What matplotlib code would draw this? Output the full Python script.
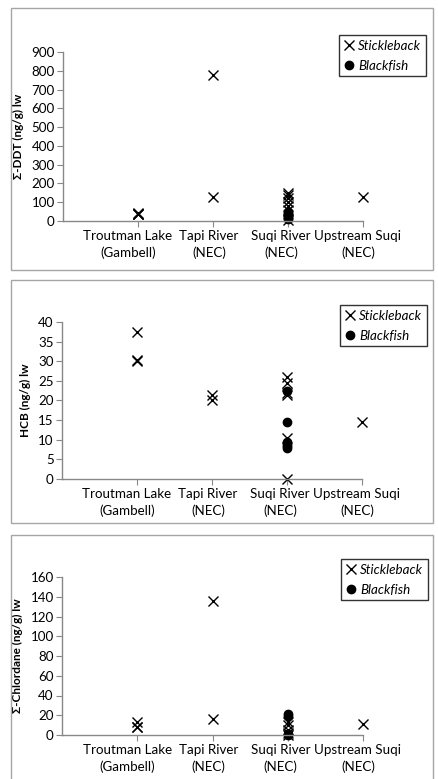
import matplotlib
matplotlib.use("Agg")
import matplotlib.pyplot as plt
from matplotlib.patches import Rectangle
from matplotlib.transforms import ScaledTranslation, blended_transform_factory

plt.rcParams['font.family'] = ['Lato', 'DejaVu Sans']

categories = ["Troutman Lake\n(Gambell)", "Tapi River\n(NEC)", "Suqi River\n(NEC)", "Upstream Suqi\n(NEC)"]
cat_pos = [1, 2, 3, 4]

# Panel 1: sum DDT
ddt_stickle = [[38, 35, 40, 36], [778, 130], [150, 140, 125, 100, 80, 60, 5], [128]]
ddt_black = [[], [], [50, 40, 30, 20, 15, 10], []]
# Panel 2: HCB
hcb_stickle = [[37.5, 30, 30.2], [21.5, 20], [26, 24.5, 22, 21.5, 10.5, 0], [14.5]]
hcb_black = [[], [], [22.5, 14.5, 9.5, 9, 8.5, 8], []]
# Panel 3: sum chlordane
chl_stickle = [[13, 8, 8.5], [136, 16], [13, 10, 5, 2, 0], [11.5]]
chl_black = [[], [], [21, 19, 1, 0], []]

ylabels = ["Σ-DDT (ng/g) lw", "HCB (ng/g) lw", "Σ-Chlordane (ng/g) lw"]
ymaxes = [900, 40, 160]
ysteps = [100, 5, 20]
panels = [(ddt_stickle, ddt_black), (hcb_stickle, hcb_black), (chl_stickle, chl_black)]

W, H = 438, 779
fig = plt.figure(figsize=(W / 100, H / 100), dpi=100)

# panel boxes (pixels: left, top, right, bottom)
boxes = [(11, 8, 433, 270), (11, 280, 433, 523), (11, 535, 433, 790)]
# axes (pixels: left, top(ymax), right, bottom(y=0))
axes_px = [(63, 52, 363, 221), (62, 322, 362, 479), (62, 577, 363, 735)]
legends_px = [(339, 35, 418, 77), (340, 305, 420, 348), (341, 559, 422, 605)]
label_shift_px = [-10, -4, -7, -5]

for (l, t, r, b) in boxes:
    fig.patches.append(Rectangle((l / W, 1 - b / H), (r - l) / W, (b - t) / H,
                                 transform=fig.transFigure, fill=False,
                                 edgecolor='#a6a6a6', linewidth=1.0))

for i, ((st, bl), ylab, ymax, ystep) in enumerate(zip(panels, ylabels, ymaxes, ysteps)):
    l, t, r, b = axes_px[i]
    ax = fig.add_axes([l / W, 1 - b / H, (r - l) / W, (b - t) / H])
    for x, vals in zip(cat_pos, st):
        if vals:
            ax.plot([x] * len(vals), vals, linestyle='none', marker='x', color='black',
                    markersize=7, markeredgewidth=1.0, clip_on=False, label='_nolegend_')
    for x, vals in zip(cat_pos, bl):
        if vals:
            ax.plot([x] * len(vals), vals, linestyle='none', marker='o', color='black',
                    markersize=6, clip_on=False, label='_nolegend_')
    ax.set_xlim(0, 4)
    ax.set_ylim(0, ymax)
    ax.set_yticks(list(range(0, ymax + 1, ystep)))
    ax.set_xticks(cat_pos)
    ax.set_xticklabels([])
    trans = blended_transform_factory(ax.transData, ax.transAxes)
    for x, lab, dx in zip(cat_pos, categories, label_shift_px):
        ax.text(x, 0, lab, ha='center', va='top', fontsize=9.6, linespacing=1.45,
                transform=trans + ScaledTranslation(dx / 100, -9 / 100, fig.dpi_scale_trans))
    ax.tick_params(axis='x', length=4, color='#888888', direction='out')
    ax.tick_params(axis='y', length=4, color='#888888', direction='out', labelsize=9.6, pad=2)
    for s in ['top', 'right']:
        ax.spines[s].set_visible(False)
    for s in ['left', 'bottom']:
        ax.spines[s].set_color('#888888')
        ax.spines[s].set_linewidth(1.0)
    ax.set_ylabel(ylab, fontsize=8.5, fontweight='bold', labelpad=5)
    ax.patch.set_alpha(0)

    # legend
    ll, lt, lr, lb = legends_px[i]
    h1, = ax.plot([], [], linestyle='none', marker='x', color='black', markersize=7, markeredgewidth=1.0)
    h2, = ax.plot([], [], linestyle='none', marker='o', color='black', markersize=6)
    leg = fig.legend([h1, h2], ['Stickleback', 'Blackfish'],
                     loc='upper left', bbox_to_anchor=(ll / W, 1 - lt / H),
                     bbox_transform=fig.transFigure, frameon=True, fancybox=False,
                     prop={'style': 'italic', 'size': 9.6}, handlelength=0.8,
                     handletextpad=0.3, borderpad=0.35, labelspacing=0.6,
                     borderaxespad=0, edgecolor='black')
    leg.get_frame().set_linewidth(1.0)

fig.savefig("out.png", dpi=100)
